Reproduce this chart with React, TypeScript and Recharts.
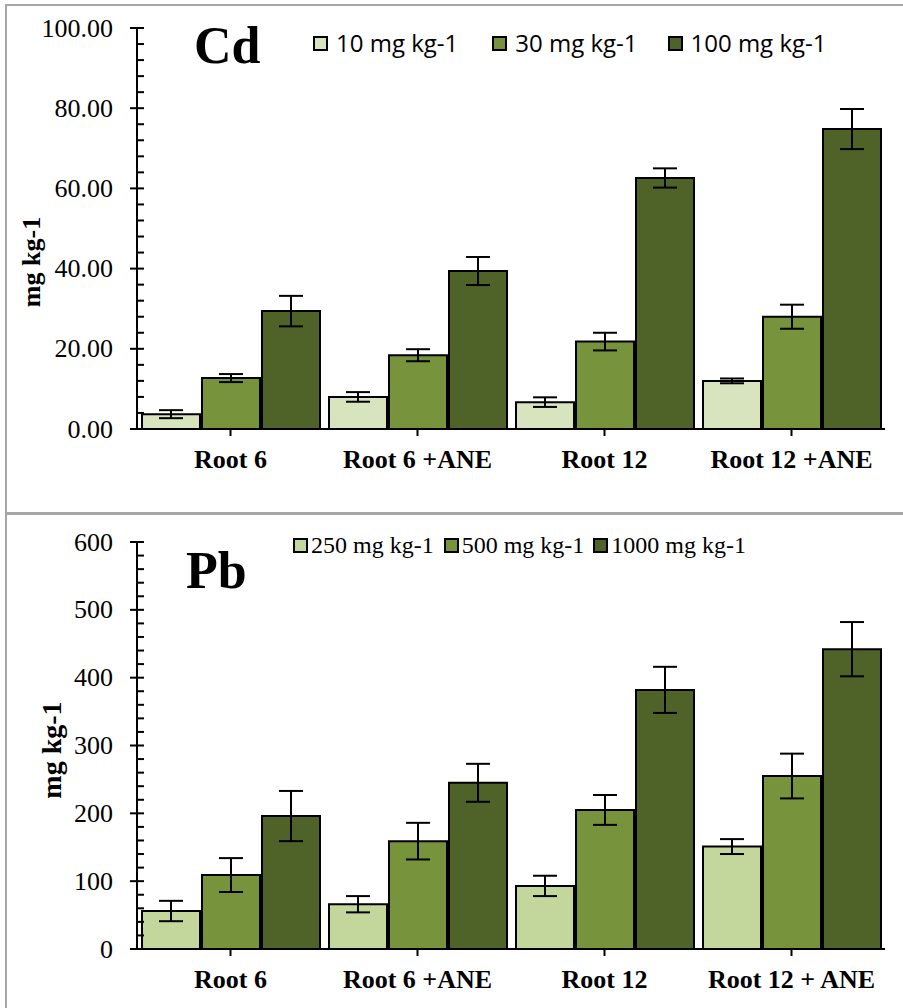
import { BarChart, Bar, XAxis, YAxis, ErrorBar } from 'recharts'

const CATEGORIES_CD = ['Root 6', 'Root 6 +ANE', 'Root 12', 'Root 12 +ANE']
const CATEGORIES_PB = ['Root 6', 'Root 6 +ANE', 'Root 12', 'Root 12 + ANE']

const CD_10 = [3.7, 8.0, 6.7, 12.0]
const CD_10_ERR = [1.0, 1.2, 1.2, 0.6]
const CD_30 = [12.7, 18.4, 21.8, 28.0]
const CD_30_ERR = [1.0, 1.5, 2.2, 3.0]
const CD_100 = [29.4, 39.4, 62.6, 74.8]
const CD_100_ERR = [3.8, 3.5, 2.4, 5.0]

const PB_250 = [56, 66, 93, 151]
const PB_250_ERR = [15, 12, 15, 11]
const PB_500 = [109, 159, 205, 255]
const PB_500_ERR = [25, 27, 22, 33]
const PB_1000 = [196, 245, 382, 442]
const PB_1000_ERR = [37, 28, 34, 40]

const CD_LEGEND = ['10 mg kg-1', '30 mg kg-1', '100 mg kg-1']
const PB_LEGEND = ['250 mg kg-1', '500 mg kg-1', '1000 mg kg-1']

const CD_TICKS = Array.from({ length: 26 }, (_, i) => i * 4)
const PB_TICKS = Array.from({ length: 31 }, (_, i) => i * 20)

const LIGHT_CD = '#d7e4bd'
const LIGHT_PB = '#c3d69b'
const MID = '#77933c'
const DARK = '#4f6228'
const SERIF = '"Liberation Serif", "Times New Roman", serif'

const cdData = CATEGORIES_CD.map((name, i) => ({
  name,
  a: CD_10[i], aErr: CD_10_ERR[i],
  b: CD_30[i], bErr: CD_30_ERR[i],
  c: CD_100[i], cErr: CD_100_ERR[i],
}))

const pbData = CATEGORIES_PB.map((name, i) => ({
  name,
  a: PB_250[i], aErr: PB_250_ERR[i],
  b: PB_500[i], bErr: PB_500_ERR[i],
  c: PB_1000[i], cErr: PB_1000_ERR[i],
}))

function makeYTick(major: number, fmt: (v: number) => string) {
  return (props: any) => {
    const { x, y, payload } = props
    const v = payload.value
    const isMajor = v % major === 0
    return (
      <g>
        <line x1={isMajor ? x - 7 : x} x2={x + 7} y1={y} y2={y} stroke="#000" strokeWidth={2} />
        {isMajor && (
          <text x={x - 24} y={y} textAnchor="end" dominantBaseline="central"
            className="serif-txt" fontSize={26} fill="#000">
            {fmt(v)}
          </text>
        )}
      </g>
    )
  }
}

function XTick(props: any) {
  const { x, y, payload } = props
  return (
    <text x={x} y={y} dy={18} textAnchor="middle" className="serif-txt"
      fontWeight="bold" fontSize={26} fill="#000">
      {payload.value}
    </text>
  )
}

function YLabel({ x, y, size }: { x: number; y: number; size: number }) {
  return (
    <text x={x} y={y} transform={`rotate(-90 ${x} ${y})`} textAnchor="middle"
      dominantBaseline="central" className="serif-txt" fontWeight="bold" fontSize={size} fill="#000">
      mg kg-1
    </text>
  )
}

function LegendRow({ items, colors, left, top, font, size, gaps }: any) {
  return (
    <div style={{ position: 'absolute', left, top, display: 'flex', alignItems: 'center', whiteSpace: 'nowrap' }}>
      {items.map((label: string, i: number) => (
        <div key={label} style={{ display: 'flex', alignItems: 'center', marginRight: gaps[i] }}>
          <span style={{ width: 11, height: 11, background: colors[i], border: '2px solid #000', display: 'inline-block', marginRight: font === SERIF ? 3 : 8 }} />
          <span style={{ fontFamily: font, fontSize: size, color: '#000', lineHeight: 1 }}>{label}</span>
        </div>
      ))}
    </div>
  )
}

function Panel({ data, light, ticks, major, max, fmt, labels, labelPos, margin, height }: any) {
  return (
    <BarChart width={903} height={height} data={data} margin={margin} barCategoryGap={5} barGap={2}>
      <XAxis dataKey="name" height={40} tickSize={7} tickMargin={14}
        axisLine={{ stroke: '#000', strokeWidth: 2 }} tickLine={{ stroke: '#000', strokeWidth: 2 }}
        tick={<XTick />} interval={0} />
      <YAxis width={137} domain={[0, max]} ticks={ticks} interval={0} tickSize={0} tickMargin={0}
        axisLine={{ stroke: '#000', strokeWidth: 2 }} tickLine={false} tick={makeYTick(major, fmt)}
        label={{ content: () => <YLabel {...labelPos} /> }} />
      {['a', 'b', 'c'].map((k, i) => (
        <Bar key={k} dataKey={k} name={labels[i]} fill={[light, MID, DARK][i]} stroke="#000" strokeWidth={2} isAnimationActive={false}>
          <ErrorBar dataKey={`${k}Err`} width={12} stroke="#000" strokeWidth={2} />
        </Bar>
      ))}
    </BarChart>
  )
}

export default function App() {
  return (
    <div style={{ position: 'absolute', left: 0, top: 0, width: 903, height: 1008, background: '#fff', overflow: 'hidden' }}>
      <style>{`.serif-txt { font-family: "Liberation Serif", "Times New Roman", serif !important; }`}</style>
      <div style={{ position: 'absolute', left: 5, top: 4, width: 910, height: 506, borderTop: '2px solid #a6a6a6', borderLeft: '2px solid #a6a6a6', borderBottom: '3px solid #a6a6a6' }} />
      <div style={{ position: 'absolute', left: 5, top: 515, width: 2, height: 493, background: '#a6a6a6' }} />

      <div style={{ position: 'absolute', left: 0, top: 0 }}>
        <Panel data={cdData} light={LIGHT_CD} ticks={CD_TICKS} major={20} max={100}
          fmt={(v: number) => v.toFixed(2)} labels={CD_LEGEND}
          labelPos={{ x: 31, y: 262, size: 26 }}
          margin={{ top: 28, right: 18, left: 0, bottom: 42 }} height={511} />
      </div>
      <div style={{ position: 'absolute', left: 0, top: 513 }}>
        <Panel data={pbData} light={LIGHT_PB} ticks={PB_TICKS} major={100} max={600}
          fmt={(v: number) => String(v)} labels={PB_LEGEND}
          labelPos={{ x: 51, y: 237, size: 28 }}
          margin={{ top: 29, right: 18, left: 0, bottom: 19 }} height={495} />
      </div>

      <div style={{ position: 'absolute', left: 194, top: 20, fontFamily: SERIF, fontWeight: 'bold', fontSize: 52, lineHeight: 1 }}>Cd</div>
      <div style={{ position: 'absolute', left: 186, top: 545, fontFamily: SERIF, fontWeight: 'bold', fontSize: 52, lineHeight: 1 }}>Pb</div>

      <LegendRow items={CD_LEGEND} colors={[LIGHT_CD, MID, DARK]} left={313} top={31} font='"Open Sans", sans-serif' size={24} gaps={[34, 30, 0]} />
      <LegendRow items={PB_LEGEND} colors={[LIGHT_PB, MID, DARK]} left={293} top={533} font={SERIF} size={24} gaps={[10, 9, 0]} />
    </div>
  )
}
